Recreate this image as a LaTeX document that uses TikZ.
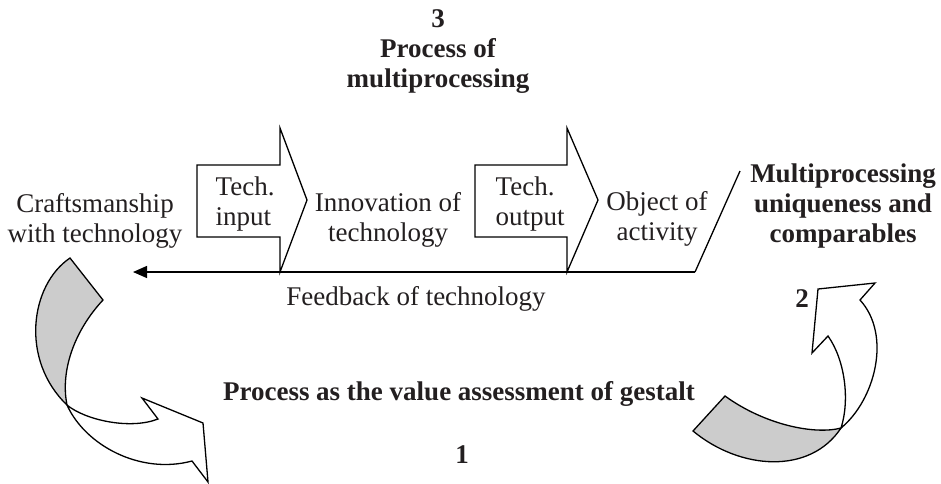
\documentclass[tikz,border=0pt]{standalone}
\usepackage{fontspec}
\setmainfont{Liberation Serif}
\usetikzlibrary{arrows.meta}

\definecolor{inkgray}{RGB}{35,31,32}
\definecolor{ribbongray}{RGB}{204,204,204}

\begin{document}
\begin{tikzpicture}[
    x=1pt, y=-1pt,
    line width=1.3pt,
    txt/.style={font=\fontsize{27}{30}\selectfont, text=inkgray, inner sep=0pt, align=center, anchor=base},
    bold/.style={txt, font=\fontsize{27}{30}\selectfont\bfseries},
    blockarrow/.style={draw, fill=white},
    ribbon/.style={draw, fill=ribbongray},
    >={Triangle[length=14pt, width=12pt]}
]
\useasboundingbox (0,0) rectangle (941,483);

% top title
\node[bold] (multi) at (438,87) {3\\Process of\\multiprocessing};

% block arrows
\draw[blockarrow] (197,165) -- (280,165) -- (280,128) -- (307,200) -- (280,272) -- (280,237) -- (197,237) -- cycle;
\draw[blockarrow] (475,165) -- (567,165) -- (567,128) -- (598,200) -- (567,272) -- (567,237) -- (475,237) -- cycle;

\node[txt, align=left, anchor=base west] (techin) at (215,225) {Tech.\\input};
\node[txt, align=left, anchor=base west] (techout) at (495,225) {Tech.\\output};

\node[txt] (craft) at (95,242) {Craftsmanship\\with technology};
\node[txt] (innov) at (388,241) {Innovation of\\technology};
\node[txt] (object) at (657,240) {Object of\\activity};
\node[bold] (unique) at (843,242) {Multiprocessing\\uniqueness and\\comparables};

% feedback line
\coordinate (fbstart) at (695,272);
\coordinate (fbtip) at (133,272);
\coordinate (slanttop) at (740,171);
\draw (slanttop) -- (fbstart);
\draw[->] (fbstart) -- (fbtip);
\node[txt] (feedback) at (416,305) {Feedback of technology};

% curved arrow 1
\draw[ribbon] (70,258) -- (103,300) .. controls (75,330) and (60,370) .. (67,405)
    .. controls (20,360) and (30,285) .. (70,258) -- cycle;
\draw[blockarrow] (67,405) .. controls (85,420) and (130,430) .. (158,419) -- (142,398) -- (203,423)
    -- (208,482) -- (192,461) .. controls (140,475) and (85,445) .. (67,405) -- cycle;

% curved arrow 2
\draw[ribbon] (725,396) -- (693,431) .. controls (740,470) and (810,475) .. (841,428)
    .. controls (815,435) and (765,425) .. (725,396) -- cycle;
\draw[blockarrow] (841,428) .. controls (850,400) and (845,360) .. (828,336) -- (812,353) -- (818,289)
    -- (875,283) -- (860,300) .. controls (892,335) and (875,400) .. (841,428) -- cycle;

\node[bold] (gestalt) at (459,400) {Process as the value assessment of gestalt};
\node[bold] (one) at (462,463) {1};
\node[bold] (two) at (802,307) {2};

\end{tikzpicture}
\end{document}
